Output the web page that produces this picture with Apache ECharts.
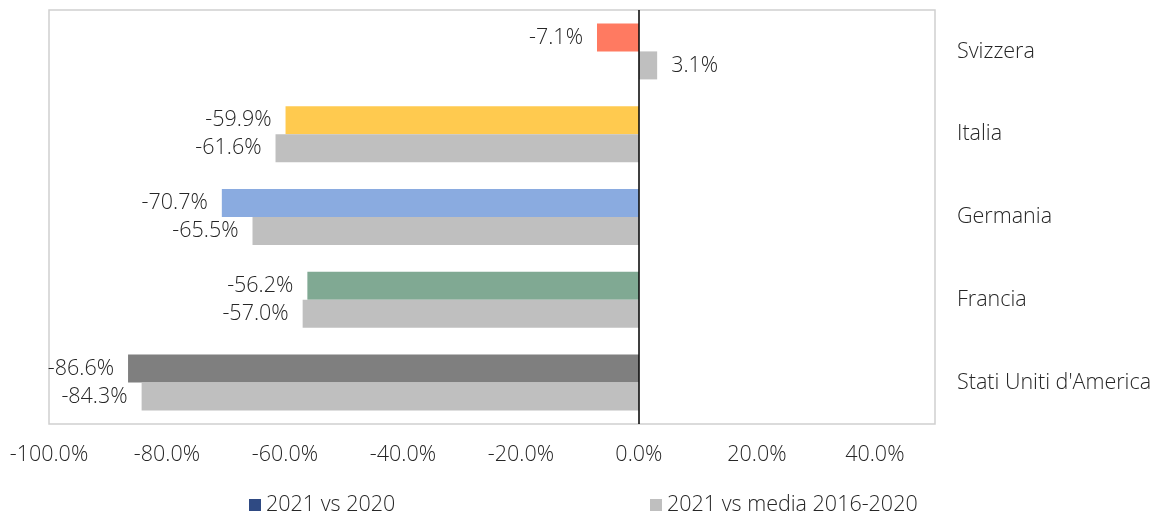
<!DOCTYPE html>
<html><head><meta charset="utf-8">
<script src="https://cdn.jsdelivr.net/npm/echarts@6/dist/echarts.min.js"></script>
<style>html,body{margin:0;padding:0;background:#fff}#c{width:1171px;height:515px}</style>
</head><body><div id="c"></div>
<script>
const categories = ["Stati Uniti d'America", "Francia", "Germania", "Italia", "Svizzera"];
const vs2020 = [-86.6, -56.2, -70.7, -59.9, -7.1];
const vsMedia = [-84.3, -57.0, -65.5, -61.6, 3.1];
const barColors = ['#7F7F7F', '#80A993', '#8AABE0', '#FFCA4F', '#FF7A61'];
const seriesNames = ['2021 vs 2020', '2021 vs media 2016-2020'];

const font = 'Open Sans, Noto Sans, sans-serif';
const txt = '#262626';
const fs = 21.5;
const fw = 300;
const lbl = v => ({ position: v < 0 ? 'left' : 'right' });

const chart = echarts.init(document.getElementById('c'));
chart.setOption({
  animation: false,
  textStyle: { fontFamily: font },
  grid: { left: 49, right: 236, top: 10, bottom: 91, show: true, borderColor: '#D0D0D0', borderWidth: 1.5 },
  legend: [
    { data: [seriesNames[0]], left: 244, top: 489, itemWidth: 12, itemHeight: 12, icon: 'rect', itemGap: 6,
      textStyle: { fontSize: fs, fontWeight: fw, color: txt, fontFamily: font } },
    { data: [seriesNames[1]], left: 645, top: 489, itemWidth: 12, itemHeight: 12, icon: 'rect', itemGap: 6,
      textStyle: { fontSize: fs, fontWeight: fw, color: txt, fontFamily: font } }
  ],
  xAxis: {
    type: 'value', min: -100, max: 50.2, interval: 20,
    splitLine: { show: false }, axisLine: { show: false }, axisTick: { show: false },
    axisLabel: { fontSize: fs, fontWeight: fw, color: txt, margin: 20, formatter: v => v > 45 ? '' : v.toFixed(1) + '%', showMaxLabel: false }
  },
  yAxis: {
    type: 'category', data: categories, position: 'right',
    axisLine: { show: false }, axisTick: { show: false },
    axisLabel: { fontSize: fs, fontWeight: fw, color: txt, margin: 22, align: 'left' }
  },
  series: [
    {
      name: seriesNames[0], type: 'bar', barWidth: 28, barGap: '0%',
      itemStyle: { color: '#2F4A83' },
      data: vs2020.map((v, i) => ({ value: v, itemStyle: { color: barColors[i] }, label: lbl(v) })),
      label: { show: true, fontSize: fs, fontWeight: fw, color: txt, distance: 14, formatter: p => p.value.toFixed(1) + '%' }
    },
    {
      name: seriesNames[1], type: 'bar', barWidth: 28, barGap: '0%',
      itemStyle: { color: '#BFBFBF' },
      data: vsMedia.map(v => ({ value: v, label: lbl(v) })),
      label: { show: true, fontSize: fs, fontWeight: fw, color: txt, distance: 14, formatter: p => p.value.toFixed(1) + '%' },
      markLine: { silent: true, symbol: 'none', label: { show: false },
        lineStyle: { color: '#000', width: 1.5, type: 'solid' }, data: [{ xAxis: 0 }] }
    }
  ]
});
</script></body></html>
